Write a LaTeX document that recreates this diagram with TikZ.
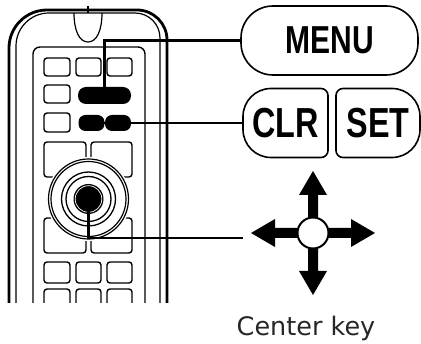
\documentclass[tikz,border=0pt]{standalone}
\usepackage{fontspec}
\newfontfamily\keyfont[FakeStretch=0.77]{Liberation Sans}
\newfontfamily\labelfont{DejaVu Sans}
\definecolor{captiongray}{HTML}{262626}
\tikzset{
  body/.style={line width=2.8pt},
  shell/.style={line width=1.2pt},
  key/.style={line width=1.4pt, rounded corners=3pt},
  blackkey/.style={fill=black, inner sep=0pt},
  leader/.style={line width=2.6pt},
  boxline/.style={line width=1.6pt},
}
\begin{document}
\begin{tikzpicture}[x=1pt,y=-1pt]
\useasboundingbox (0,0) rectangle (421,344);
% keys shown at the right
\node[draw, boxline, rounded corners=32pt, minimum width=177pt, minimum height=69pt, inner sep=0pt,
      font=\keyfont\bfseries\fontsize{39pt}{39pt}\selectfont] (menu) at (329.5,40.5) {MENU};
\node[minimum width=85pt, minimum height=69pt, inner sep=0pt,
      font=\keyfont\bfseries\fontsize{42pt}{42pt}\selectfont] (clr) at (285.5,123) {CLR};
\node[minimum width=84pt, minimum height=69pt, inner sep=0pt,
      font=\keyfont\bfseries\fontsize{42pt}{42pt}\selectfont] (set) at (378,123) {SET};
\draw[boxline] (271,88.5) -- (321,88.5) arc[start angle=-90, end angle=0, radius=7] -- (328,150.5)
  arc[start angle=0, end angle=90, radius=7] -- (271,157.5) arc[start angle=90, end angle=180, radius=28]
  -- (243,116.5) arc[start angle=180, end angle=270, radius=28] -- cycle;
\draw[boxline] (343,88.5) -- (392,88.5) arc[start angle=270, end angle=360, radius=28] -- (420,129.5)
  arc[start angle=0, end angle=90, radius=28] -- (343,157.5) arc[start angle=90, end angle=180, radius=7]
  -- (336,95.5) arc[start angle=180, end angle=270, radius=7] -- cycle;
% direction pad
\coordinate (cross) at (313,233);
\foreach \a in {0,90,180,270}
  \fill[shift={(cross)}, rotate=\a] (0,-5) -- (38,-5) -- (38,-14) -- (62,0) -- (38,14) -- (38,5) -- (0,5) -- cycle;
\node[draw, circle, fill=white, line width=2pt, minimum size=31pt, inner sep=0pt] (hub) at (cross) {};
\coordinate (dialtip) at (243,238);
\node[font=\labelfont\fontsize{25.5pt}{25.5pt}\selectfont, text=captiongray, anchor=base] (caption) at (306,336) {Center key};
% remote control, cut off at the bottom
\begin{scope}
\clip (0,0) rectangle (421,303);
\draw[body] (9,320) -- (9,48) arc[start angle=180, end angle=270, radius=38] -- (137,10)
  arc[start angle=270, end angle=360, radius=30] -- (167,320);
\draw[shell] (16,320) -- (16,46) arc[start angle=180, end angle=270, radius=33] -- (135,13)
  arc[start angle=270, end angle=360, radius=25] -- (160,320);
\draw[shell] (74,13) .. controls (74,30) and (79,42) .. (88,42) .. controls (97,42) and (102,30) .. (102,13);
\draw[shell] (88,6) -- (88,13);
\draw[line width=1.4pt] (33,320) -- (33,54) arc[start angle=180, end angle=270, radius=7] -- (138,47)
  arc[start angle=270, end angle=360, radius=7] -- (145,320);
% small keys
\foreach \y/\h in {58/18, 262/21, 289/21}
  \foreach \x/\w in {44/26, 76/25, 107/25}
    \draw[key] (\x,\y) rectangle ++(\w,\h);
\draw[key] (44,85) rectangle (70,103);
\draw[key] (44,113) rectangle (70,132);
% wide keys round the dial
\foreach \y in {142,218}
  \foreach \x/\w in {44/42, 91/41}
    \draw[key] (\x,\y) rectangle ++(\w,35);
\node[blackkey, rounded corners=8pt, minimum width=53pt, minimum height=17pt] (menukey) at (104.5,95.5) {};
\node[blackkey, rounded corners=7pt, minimum width=26pt, minimum height=16pt] (clrkey) at (91.5,123) {};
\node[blackkey, rounded corners=7pt, minimum width=26pt, minimum height=16pt] (setkey) at (118,123) {};
% dial
\coordinate (dial) at (88.5,199);
\fill[white] (dial) circle (42);
\draw[shell] (dial) circle (40) (dial) circle (37.5);
\draw[line width=1.3pt] (dial) circle (27) (dial) circle (22.5);
\node[circle, fill=black, minimum size=30pt, inner sep=0pt] (disc) at (dial) {};
\draw[white, line width=0.7pt] (dial) circle (13.3);
% leaders
\draw[leader] (menukey.center) |- (menu.west);
\draw[leader] (clrkey.center) -- (clr.west);
\draw[leader] (disc.center) |- (dialtip);
\end{scope}
\end{tikzpicture}
\end{document}
